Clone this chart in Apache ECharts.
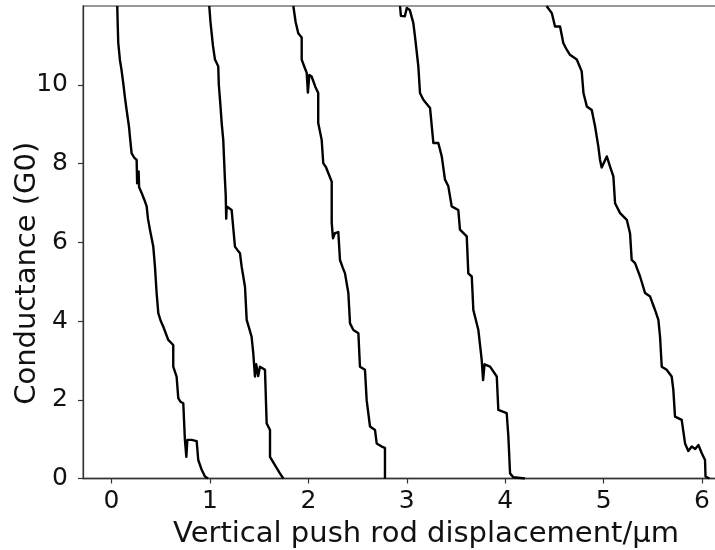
<!DOCTYPE html>
<html>
<head>
<meta charset="utf-8">
<script src="https://cdn.jsdelivr.net/npm/echarts@6/dist/echarts.min.js"></script>
<style>
html,body{margin:0;padding:0;background:#fff;}
#chart{width:715px;height:550px;}
</style>
</head>
<body>
<div id="chart"></div>
<script>
// Tick values
var xTicks = [0, 1, 2, 3, 4, 5, 6];
var yTicks = [0, 2, 4, 6, 8, 10];

// Trace 1
var t1x = [0.058,0.062,0.068,0.085,0.10,0.119,0.135,0.153,0.177,0.19,0.204,0.23,0.255,0.26,0.275,0.28,0.306,0.33,0.357,0.37,0.39,0.424,0.441,0.458,0.475,0.50,0.525,0.576,0.627,0.627,0.661,0.678,0.70,0.729,0.74,0.745,0.76,0.77,0.814,0.865,0.881,0.916,0.949,0.98];
var t1y = [12.0,11.6,11.07,10.63,10.4,10.04,9.7,9.36,8.94,8.6,8.26,8.15,8.09,7.5,7.8,7.4,7.25,7.1,6.91,6.6,6.32,5.89,5.38,4.71,4.2,4.0,3.86,3.52,3.39,2.84,2.59,2.04,1.95,1.91,1.9,1.0,0.55,0.98,0.98,0.95,0.47,0.22,0.05,0.0];
// Trace 2
var t2x = [0.993,1.005,1.017,1.03,1.051,1.084,1.09,1.102,1.12,1.135,1.152,1.16,1.165,1.17,1.22,1.254,1.28,1.305,1.322,1.356,1.373,1.40,1.423,1.44,1.457,1.47,1.49,1.508,1.559,1.576,1.576,1.61,1.61,1.66,1.711,1.745];
var t2y = [12.0,11.6,11.31,11.0,10.64,10.47,10.0,9.62,9.0,8.6,7.59,7.2,6.6,6.91,6.82,5.89,5.8,5.72,5.38,4.87,4.03,3.8,3.6,3.18,2.59,2.9,2.6,2.84,2.76,2.76,1.4,1.23,0.55,0.34,0.13,0.0];
// Trace 3
var t3x = [1.847,1.87,1.897,1.932,1.932,1.96,1.983,1.995,2.01,2.033,2.07,2.1,2.1,2.135,2.151,2.18,2.202,2.237,2.237,2.25,2.27,2.304,2.321,2.35,2.372,2.406,2.423,2.457,2.508,2.524,2.575,2.592,2.626,2.677,2.694,2.745,2.778,2.778];
var t3y = [12.0,11.6,11.31,11.2,10.64,10.45,10.3,9.8,10.25,10.21,9.95,9.79,9.03,8.6,8.01,7.9,7.76,7.54,6.49,6.1,6.23,6.26,5.55,5.35,5.21,4.71,3.94,3.77,3.69,2.84,2.76,1.99,1.32,1.23,0.89,0.81,0.78,0.0];
// Trace 4
var t4x = [2.931,2.94,2.98,3.0,3.03,3.066,3.083,3.1,3.117,3.134,3.168,3.236,3.27,3.32,3.355,3.388,3.422,3.456,3.523,3.54,3.609,3.625,3.66,3.676,3.727,3.761,3.775,3.79,3.846,3.914,3.93,4.015,4.032,4.049,4.082,4.2];
var t4y = [12.0,11.75,11.74,11.95,11.9,11.57,11.23,10.85,10.47,9.79,9.62,9.41,8.52,8.52,8.18,7.59,7.42,6.91,6.82,6.32,6.15,5.21,5.13,4.28,3.77,3.01,2.5,2.9,2.84,2.59,1.74,1.66,1.06,0.13,0.03,0.0];
// Trace 5
var t5x = [4.42,4.473,4.506,4.557,4.59,4.625,4.658,4.727,4.777,4.795,4.829,4.879,4.913,4.946,4.963,4.98,5.032,5.065,5.099,5.116,5.167,5.235,5.268,5.285,5.319,5.37,5.421,5.472,5.522,5.556,5.573,5.59,5.64,5.691,5.708,5.725,5.793,5.827,5.86,5.895,5.93,5.963,5.997,6.03,6.035,6.075];
var t5y = [12.0,11.82,11.48,11.48,11.06,10.89,10.76,10.64,10.34,9.79,9.45,9.36,8.94,8.43,8.09,7.9,8.18,7.92,7.67,6.99,6.74,6.57,6.23,5.55,5.47,5.13,4.71,4.62,4.28,4.03,3.6,2.84,2.76,2.59,2.25,1.57,1.49,0.89,0.7,0.81,0.75,0.85,0.64,0.47,0.05,0.0];

function zip(xs, ys) { return xs.map(function (x, i) { return [x, ys[i]]; }); }
var traces = [[t1x, t1y], [t2x, t2y], [t3x, t3y], [t4x, t4y], [t5x, t5y]];

var font = 'DejaVu Sans';
var chart = echarts.init(document.getElementById('chart'), null, {renderer: 'canvas'});
chart.setOption({
  animation: false,
  backgroundColor: '#ffffff',
  grid: {left: 83, top: 6, right: -54, bottom: 71.5, containLabel: false, outerBoundsMode: 'none',
         show: true, borderColor: '#777', borderWidth: 1.3, backgroundColor: 'transparent'},
  xAxis: {
    type: 'value', min: -0.29, max: 6.68,
    name: 'Vertical push rod displacement/\u03bcm', nameLocation: 'middle', nameGap: 41,
    nameMoveOverlap: false,
    nameTextStyle: {fontFamily: font, fontSize: 29, color: '#111'},
    axisLine: {onZero: false, lineStyle: {color: '#333', width: 1.3}},
    axisTick: {show: true, customValues: xTicks, length: 5, lineStyle: {color: '#333', width: 1.2}},
    axisLabel: {customValues: xTicks, fontFamily: font, fontSize: 25, color: '#111', margin: 10},
    splitLine: {show: false}
  },
  yAxis: {
    type: 'value', min: 0, max: 12,
    name: 'Conductance (G0)', nameLocation: 'middle', nameGap: 41, nameRotate: 90,
    nameMoveOverlap: false,
    nameTextStyle: {fontFamily: font, fontSize: 29, color: '#111', padding: [0, 62, 0, 0]},
    axisLine: {onZero: false, lineStyle: {color: '#333', width: 1.3}},
    axisTick: {show: true, customValues: yTicks, length: 5, lineStyle: {color: '#333', width: 1.2}},
    axisLabel: {customValues: yTicks, fontFamily: font, fontSize: 25, color: '#111', margin: 15},
    splitLine: {show: false}
  },
  series: traces.map(function (t) {
    return {
      type: 'line', data: zip(t[0], t[1]), showSymbol: false, symbol: 'none',
      lineStyle: {color: '#000', width: 2.4, join: 'round'}, clip: true
    };
  })
});
</script>
</body>
</html>
